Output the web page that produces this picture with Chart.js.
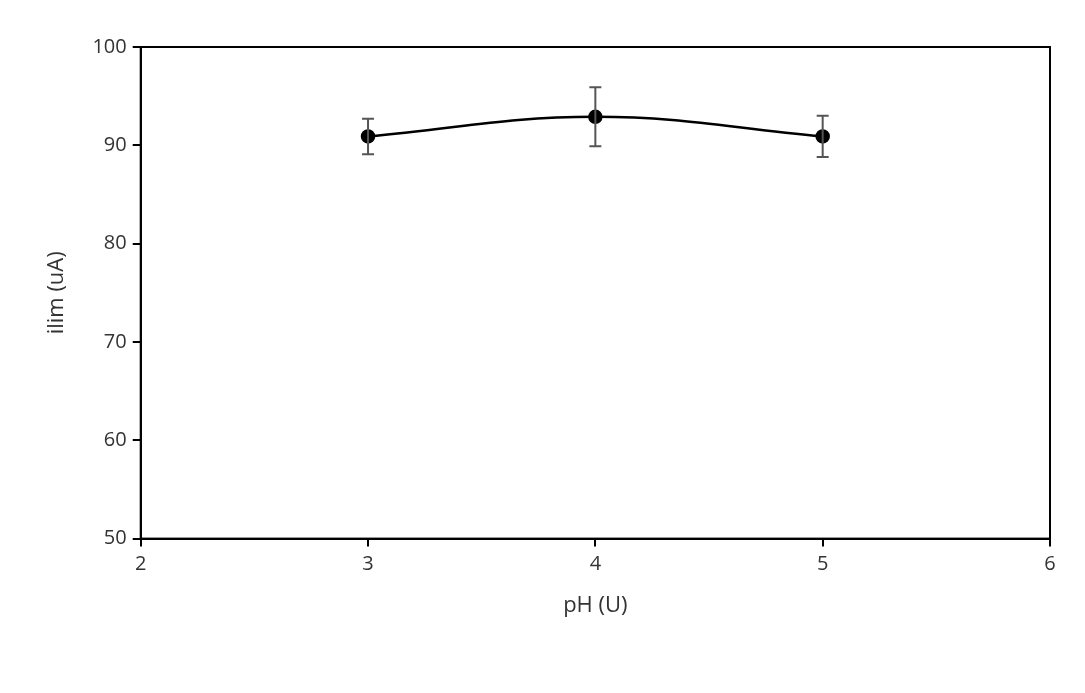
<!DOCTYPE html>
<html><head><meta charset="utf-8">
<script src="https://cdn.jsdelivr.net/npm/chart.js@4"></script>
<style>html,body{margin:0;padding:0;background:#fff}#w{width:1085px;height:693px}</style>
</head><body><div id="w"><canvas id="c"></canvas></div>
<script>
const phValues = [3, 4, 5];
const ilimValues = [90.9, 92.9, 90.9];
const errValues = [1.8, 3.0, 2.1];
const xTicks = [2, 3, 4, 5, 6];
const yTicks = [50, 60, 70, 80, 90, 100];

const extras = {
  id: 'extras',
  afterDatasetsDraw(chart) {
    const {ctx, chartArea: a, scales: {x, y}} = chart;
    ctx.save();
    ctx.strokeStyle = '#000'; ctx.lineWidth = 2;
    ctx.strokeRect(a.left, a.top, a.right - a.left, a.bottom - a.top);
    ctx.strokeStyle = '#555'; ctx.lineWidth = 2;
    phValues.forEach((p, i) => {
      const px = x.getPixelForValue(p);
      const t = y.getPixelForValue(ilimValues[i] + errValues[i]);
      const b = y.getPixelForValue(ilimValues[i] - errValues[i]);
      ctx.beginPath();
      ctx.moveTo(px, t); ctx.lineTo(px, b);
      ctx.moveTo(px - 6, t); ctx.lineTo(px + 6, t);
      ctx.moveTo(px - 6, b); ctx.lineTo(px + 6, b);
      ctx.stroke();
    });
    ctx.restore();
  }
};

new Chart(document.getElementById('c'), {
  type: 'scatter',
  data: { datasets: [{
    data: phValues.map((p, i) => ({x: p, y: ilimValues[i]})),
    showLine: true, tension: 0.4, borderColor: '#000', borderWidth: 2.5,
    pointBackgroundColor: '#000', pointBorderColor: '#000', pointRadius: 6
  }]},
  options: {
    responsive: true, maintainAspectRatio: false, animation: false,
    layout: { padding: { left: 40, right: 35, top: 47, bottom: 70 } },
    plugins: { legend: { display: false }, tooltip: { enabled: false } },
    scales: {
      x: { type: 'linear', min: 2, max: 6,
        afterBuildTicks: s => { s.ticks = xTicks.map(v => ({value: v})); },
        grid: { drawOnChartArea: false, color: '#000', tickLength: 8, lineWidth: 2 },
        border: { color: '#000', width: 2 },
        ticks: { color: '#333', font: { family: 'Open Sans', size: 20 }, padding: 6 },
        title: { display: true, text: 'pH (U)', color: '#333', font: { family: 'Open Sans', size: 22 }, padding: { top: 10 } } },
      y: { min: 50, max: 100,
        afterBuildTicks: s => { s.ticks = yTicks.map(v => ({value: v})); },
        grid: { drawOnChartArea: false, color: '#000', tickLength: 8, lineWidth: 2 },
        border: { color: '#000', width: 2 },
        ticks: { color: '#333', font: { family: 'Open Sans', size: 20 }, padding: 6 },
        title: { display: true, text: 'ilim (uA)', color: '#333', font: { family: 'Open Sans', size: 22 }, padding: { bottom: 16 } } }
    }
  },
  plugins: [extras]
});
</script></body></html>
